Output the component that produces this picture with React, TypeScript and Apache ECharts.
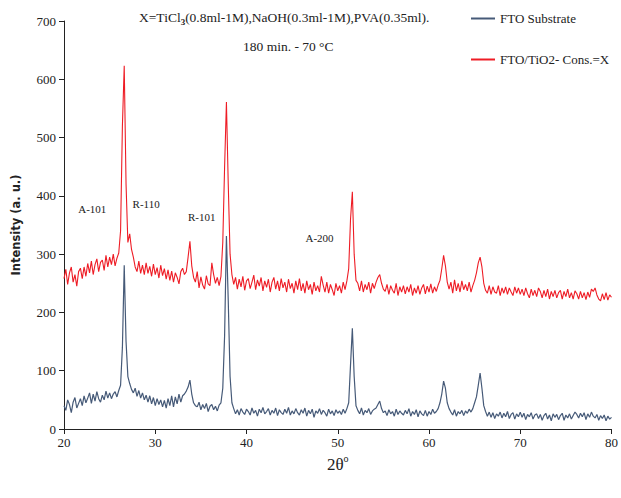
import React, { useEffect, useRef } from "react";
import * as echarts from "echarts";

// 2θ grid: 20° to 80° in 0.2° steps (301 points)
const thetaStart = 20;
const thetaStep = 0.2;

const ftoSubstrate: number[] = [
  40, 32, 50, 42, 28, 46, 54, 36, 44, 52, 40,
  57, 45, 53, 62, 44, 60, 48, 64, 52, 46,
  58, 50, 65, 53, 62, 52, 60, 64, 55, 66,
  75, 140, 281, 150, 90,
  78, 68, 62, 70, 56, 66, 53, 62, 50, 58,
  46, 57, 43, 54, 40, 52, 42, 50, 38, 49,
  36, 52, 40, 57, 38, 55, 43, 60, 46, 57,
  60, 65, 72, 84, 60,
  45, 40, 38, 46, 33, 42, 35, 44, 30, 39,
  42, 33, 39, 31, 41,
  45, 70, 160, 331, 220, 90, 45,
  35, 26, 33, 24, 35, 29, 25, 34,
  30, 24, 36, 27, 32, 22, 34, 28, 37, 26,
  30, 35, 24, 32, 27, 36, 23, 33, 28, 25,
  34, 27, 37, 24, 31, 26, 35, 28, 24, 33,
  27, 36, 22, 32, 26, 34, 20, 31, 27, 35,
  25, 32, 28, 22, 34, 26, 31, 23, 33, 27,
  31, 25, 34, 27, 35,
  45, 110, 173, 90, 40,
  32, 26, 36, 24, 32, 28, 35, 25, 31, 34,
  36, 42, 48, 35, 28,
  31, 23, 33, 26, 30, 22, 34, 25, 31, 27,
  24, 32, 26, 35, 22, 30, 25, 33, 21, 31,
  26, 23, 32, 22, 30, 25, 34, 27, 30, 35,
  45, 60, 82, 70, 45,
  35, 29, 24, 33, 22, 30, 26, 32, 23, 31,
  27, 34, 29, 35, 45,
  55, 75, 96, 70, 40,
  30, 22, 29, 20, 28, 18, 26, 22, 29, 19,
  27, 21, 30, 18, 25, 28, 17, 26, 21, 29,
  20, 27, 16, 25, 21, 28, 17, 24, 26, 18,
  25, 15, 23, 27, 17, 24, 14, 26, 20, 25,
  16, 23, 27, 15, 24, 19, 26, 17, 23, 29,
  25, 19, 27, 21, 28, 16, 26, 20, 29, 22,
  19, 25, 15, 23, 18, 24, 14, 22, 17, 20,
];

const ftoTiO2: number[] = [
  258, 274, 248, 268, 278, 252, 265, 245, 270, 276, 258,
  278, 262, 284, 268, 288, 265, 282, 292, 270, 286,
  290, 272, 298, 278, 295, 282, 300, 280, 293, 302,
  340, 520, 623, 420, 320,
  335, 308, 295, 278, 270, 288, 267, 281, 265, 285,
  267, 279, 262, 283, 265, 277, 259, 281, 263, 275,
  257, 273, 255, 271, 252, 268, 260, 249, 270, 276,
  265, 270, 295, 322, 280,
  260, 252, 270, 242, 261, 247, 240, 263, 249, 246,
  285, 265, 250, 260, 246,
  262, 320, 450, 561, 420, 300, 265,
  248, 260, 240, 257, 244, 262, 238, 254,
  258, 241, 252, 264, 239, 256, 245, 260, 237, 254,
  243, 257, 235, 252, 260, 240, 254, 237, 258, 242,
  252, 235, 257, 241, 250, 233, 254, 239, 258, 237,
  250, 233, 254, 239, 248, 231, 252, 237, 246, 235,
  262, 247, 235, 252, 233, 248, 239, 229, 250, 237,
  246, 233, 252, 239, 254,
  275, 360, 407, 300, 255,
  250, 237, 254, 235, 248, 239, 252, 233, 250, 241,
  252, 260, 265, 250, 240,
  236, 248, 231, 246, 238, 233, 250, 229, 244, 235,
  246, 232, 244, 235, 248, 229, 242, 233, 246, 231,
  242, 248, 232, 245, 235, 249, 233, 244, 236, 247,
  255, 275, 298, 280, 252,
  240, 252, 233, 256, 237, 250, 235, 254, 239, 248,
  237, 252, 235, 246, 255,
  268, 285, 295, 278, 250,
  238, 233, 246, 231, 244, 235, 233, 246, 229, 242,
  233, 244, 231, 242, 235, 229, 244, 233, 242, 231,
  240, 229, 242, 232, 225, 240, 229, 238, 227, 242,
  236, 225, 238, 227, 240, 223, 236, 227, 238, 225,
  234, 238, 223, 236, 227, 240, 225, 234, 223, 237,
  232, 223, 236, 225, 234, 222, 235, 226, 240, 236,
  242, 230, 223, 220, 232, 222, 234, 221, 230, 226,
];

const seriesNames = ["FTO Substrate", "FTO/TiO2- Cons.=X"];
const peakLabels = ["A-101", "R-110", "R-101", "A-200"];
const peakLabelPos: [number, number][] = [
  [23.1, 377],
  [29.0, 386],
  [35.1, 364],
  [48.0, 328],
];
const xTicks = { min: 20, max: 80, interval: 10 };
const yTicks = { min: 0, max: 700, interval: 100 };

const toPairs = (vals: number[]) =>
  vals.map((v, i) => [+(thetaStart + i * thetaStep).toFixed(1), v]);

const serif = "Liberation Serif";

export default function App() {
  const ref = useRef<HTMLDivElement>(null);
  useEffect(() => {
    if (!ref.current) return;
    document.body.style.margin = "0";
    const chart = echarts.init(ref.current, null, { renderer: "svg" });
    chart.setOption({
      animation: false,
      backgroundColor: "#ffffff",
      title: [
        {
          text: "{a|X=TiCl}{s|3}{a|(0.8ml-1M),NaOH(0.3ml-1M),PVA(0.35ml).}",
          left: 134,
          top: 4,
          textStyle: {
            rich: {
              a: { fontFamily: serif, fontSize: 13.5, color: "#222", fontWeight: "normal" },
              s: { fontFamily: serif, fontSize: 9, color: "#222", padding: [8, 0, 0, 0] },
            },
          },
        },
        {
          text: "180 min. - 70 °C",
          left: 238,
          top: 34,
          textStyle: { fontFamily: serif, fontSize: 13.5, color: "#222", fontWeight: "normal" },
        },
      ],
      legend: {
        orient: "vertical",
        left: 466,
        top: 7,
        itemGap: 28,
        itemWidth: 24,
        itemHeight: 2,
        icon: "rect",
        textStyle: { fontFamily: serif, fontSize: 13, color: "#222" },
        data: seriesNames,
      },
      grid: { left: 64, right: 8, top: 21, bottom: 69 },
      xAxis: {
        type: "value",
        min: xTicks.min,
        max: xTicks.max,
        interval: xTicks.interval,
        name: "{a|2θ}{s|o}",
        nameLocation: "middle",
        nameGap: 23,
        nameTextStyle: {
          rich: {
            a: { fontFamily: serif, fontSize: 17, color: "#222" },
            s: { fontFamily: serif, fontSize: 10, color: "#222", padding: [0, 0, 12, 0] },
          },
        },
        axisLine: { lineStyle: { color: "#222", width: 1 } },
        axisTick: { inside: false, length: 5, lineStyle: { color: "#222" } },
        axisLabel: { fontFamily: serif, fontSize: 13, color: "#222", margin: 7 },
        splitLine: { show: false },
      },
      yAxis: {
        type: "value",
        min: yTicks.min,
        max: yTicks.max,
        interval: yTicks.interval,
        name: "Intensity (a. u.)",
        nameLocation: "middle",
        nameGap: 42,
        nameTextStyle: { fontFamily: "DejaVu Sans", fontSize: 11.5, fontWeight: "bold", color: "#222" },
        axisLine: { show: true, lineStyle: { color: "#222", width: 1 } },
        axisTick: { show: true, inside: false, length: 5, lineStyle: { color: "#222" } },
        axisLabel: { fontFamily: serif, fontSize: 13, color: "#222", margin: 8 },
        splitLine: { show: false },
      },
      series: [
        {
          name: seriesNames[0],
          type: "line",
          data: toPairs(ftoSubstrate),
          showSymbol: false,
          symbol: "none",
          lineStyle: { color: "#465a78", width: 1.2 },
          itemStyle: { color: "#465a78" },
          z: 3,
        },
        {
          name: seriesNames[1],
          type: "line",
          data: toPairs(ftoTiO2),
          showSymbol: false,
          symbol: "none",
          lineStyle: { color: "#ee1c25", width: 1.1 },
          itemStyle: { color: "#ee1c25" },
          z: 2,
          markPoint: {
            symbol: "rect",
            symbolSize: 0,
            label: {
              show: true,
              position: "inside",
              fontFamily: serif,
              fontSize: 11,
              color: "#222",
              formatter: (p: any) => p.name,
            },
            data: peakLabels.map((name, i) => ({ name, coord: peakLabelPos[i] })),
          },
        },
      ],
    });
    return () => chart.dispose();
  }, []);
  return <div ref={ref} style={{ width: 621, height: 498 }} />;
}
